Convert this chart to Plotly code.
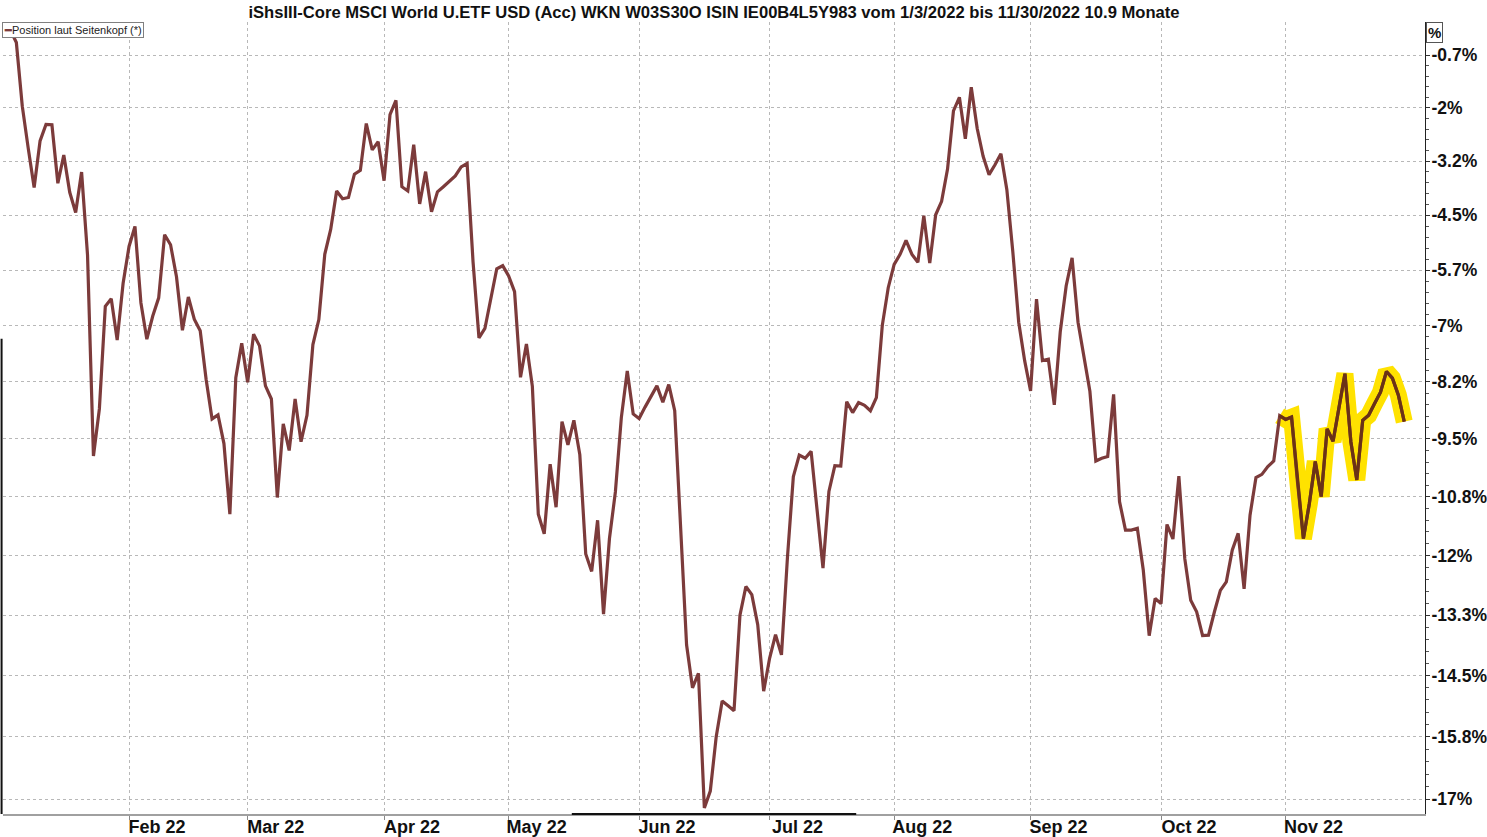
import math
import numpy as np
import pandas as pd
import plotly.graph_objects as go

# ---------------- data ----------------
dates = pd.bdate_range("2022-01-03", "2022-11-29")

perf = [
    0.00, -0.10, -0.40, -1.92, -2.91, -3.83, -2.74, -2.35, -2.36, -3.73,
    -3.07, -3.94, -4.41, -3.47, -5.38, -9.87, -8.84, -6.55, -6.38, -7.31,
    -6.03, -5.19, -4.73, -6.47, -7.29, -6.77, -6.36, -4.92, -5.15, -5.88,
    -7.09, -6.34, -6.84, -7.10, -8.19, -9.06, -8.97, -9.60, -11.13, -8.15,
    -7.38, -8.25, -7.18, -7.44, -8.33, -8.62, -10.77, -9.17, -9.75, -8.62,
    -9.56, -8.98, -7.41, -6.85, -5.37, -4.80, -3.91, -4.09, -4.06, -3.52,
    -3.43, -2.33, -2.95, -2.76, -3.67, -2.12, -1.78, -3.81, -3.91, -2.83,
    -4.21, -3.46, -4.39, -3.93, -3.81, -3.68, -3.56, -3.35, -3.27, -5.54,
    -7.26, -7.05, -6.34, -5.70, -5.63, -5.86, -6.22, -8.14, -7.40, -8.34,
    -11.13, -11.55, -10.05, -10.98, -9.12, -9.63, -9.09, -9.84, -11.98, -12.35,
    -11.26, -13.25, -11.65, -10.65, -9.03, -8.00, -8.95, -9.05, -8.80, -8.58,
    -8.33, -8.69, -8.30, -8.88, -11.30, -13.89, -14.78, -14.48, -17.22, -16.88,
    -15.78, -15.05, -15.15, -15.25, -13.27, -12.67, -12.84, -13.47, -14.85, -14.17,
    -13.68, -14.10, -12.07, -10.32, -9.85, -9.92, -9.77, -11.00, -12.28, -10.64,
    -10.08, -10.09, -8.68, -8.92, -8.70, -8.76, -8.88, -8.59, -6.98, -6.13,
    -5.60, -5.37, -5.05, -5.37, -5.55, -4.48, -5.57, -4.46, -4.15, -3.40,
    -2.03, -1.71, -2.69, -1.47, -2.45, -3.10, -3.53, -3.30, -3.04, -3.88,
    -5.30, -6.91, -7.77, -8.44, -6.39, -7.77, -7.74, -8.75, -7.13, -6.09,
    -5.45, -6.91, -7.66, -8.45, -9.98, -9.92, -9.88, -8.52, -10.86, -11.47,
    -11.47, -11.43, -12.32, -13.70, -12.92, -13.03, -11.35, -11.66, -10.31, -12.08,
    -12.96, -13.20, -13.70, -13.69, -13.20, -12.75, -12.57, -11.90, -11.54, -12.72,
    -11.15, -10.34, -10.27, -10.10, -9.98, -8.99, -9.07, -9.02, -10.43, -11.65,
    -10.90, -9.99, -10.75, -9.28, -9.55, -8.79, -8.06, -9.56, -10.39, -9.09,
    -8.98, -8.72, -8.47, -8.01, -8.16, -8.53, -9.12,
]

month_starts = ["2022-02-01", "2022-03-01", "2022-04-01", "2022-05-02", "2022-06-01",
                "2022-07-01", "2022-08-01", "2022-09-01", "2022-10-03", "2022-11-01"]
month_labels = ["Feb 22", "Mar 22", "Apr 22", "May 22", "Jun 22",
                "Jul 22", "Aug 22", "Sep 22", "Oct 22", "Nov 22"]

y_labels = ["-0.7%", "-2%", "-3.2%", "-4.5%", "-5.7%", "-7%", "-8.2%",
            "-9.5%", "-10.8%", "-12%", "-13.3%", "-14.5%", "-15.8%", "-17%"]
y_first_tick = -0.7
y_tick_step = 1.257
y_top = 0.095
y_bottom = -17.34

highlight_from = "2022-10-31"

title_text = ("iShsIII-Core MSCI World U.ETF USD (Acc) WKN W03S30O ISIN IE00B4L5Y983 "
              "vom 1/3/2022 bis 11/30/2022 10.9 Monate")
legend_text = "Position laut Seitenkopf (*)"

# ---------------- derived ----------------
n = len(dates)
assert len(perf) == n
idx = np.arange(n)
level = 100.0 + np.array(perf)
date_str = [d.strftime("%d.%m.%Y") for d in dates]
tick_pos = [int(dates.get_loc(pd.Timestamp(d))) for d in month_starts]
hl = int(dates.get_loc(pd.Timestamp(highlight_from)))

y_ticks = [y_first_tick - k * y_tick_step for k in range(len(y_labels))]
y_tickvals = [100 + v for v in y_ticks]
minor_vals = []
for k in range(len(y_labels) - 1):
    for j in range(1, 5):
        minor_vals.append(100 + y_ticks[k] - j * y_tick_step / 5)

LINE = "#7C3B3B"

fig = go.Figure()
# yellow highlighter
fig.add_trace(go.Scatter(
    x=idx[hl:], y=level[hl:], mode="lines",
    line=dict(color="#FFE200", width=17), hoverinfo="skip", showlegend=False))
fig.add_trace(go.Scatter(
    x=idx, y=level, mode="lines", name=legend_text,
    line=dict(color=LINE, width=3.2),
    customdata=np.stack([date_str, perf], axis=1),
    hovertemplate="%{customdata[0]}: %{customdata[1]}%<extra></extra>"))
# darker line on highlighter
fig.add_trace(go.Scatter(
    x=idx[hl:], y=level[hl:], mode="lines",
    line=dict(color="#6A3216", width=3.2), hoverinfo="skip", showlegend=False))

fig.update_layout(
    width=1487, height=837,
    margin=dict(l=3, r=62, t=22, b=23, autoexpand=False),
    paper_bgcolor="white", plot_bgcolor="white",
    showlegend=False,
    font=dict(family="Arial, Liberation Sans, sans-serif", color="black"),
    title=dict(text="<b>" + title_text + "</b>", x=0.5, xref="paper",
               y=1 - 12 / 837, yref="container", yanchor="middle",
               font=dict(size=16.6, color="#111"), automargin=False),
    xaxis=dict(
        automargin=False,
        range=[-0.25, 239.5], tickmode="array", tickvals=tick_pos,
        ticktext=["<b>" + t + "</b>" for t in month_labels],
        showgrid=True, gridcolor="#b8b8b8", griddash="dot", gridwidth=1,
        ticks="outside", ticklen=4, tickcolor="#888",
        showline=True, linecolor="#a0a0a0", linewidth=2, mirror=False,
        zeroline=False, tickfont=dict(size=18, color="#111"),
        ticklabelshift=28, ticklabelstandoff=-9, fixedrange=True),
    yaxis=dict(
        automargin=False,
        type="log", side="right",
        range=[math.log10(100 + y_bottom), math.log10(100 + y_top)],
        tickmode="array", tickvals=y_tickvals,
        ticktext=["<b>" + t + "</b>" for t in y_labels],
        showgrid=True, gridcolor="#b8b8b8", griddash="dot", gridwidth=1,
        ticks="outside", ticklen=4, tickcolor="#333",
        showline=True, linecolor="#222", linewidth=1,
        zeroline=False, tickfont=dict(size=17.5, color="#111"),
        ticklabelstandoff=-2,
        minor=dict(tickvals=minor_vals, ticks="outside", ticklen=3,
                   tickcolor="#555", showgrid=False),
        fixedrange=True),
)

# legend box (as annotation, like the original small legend)
fig.add_annotation(
    xref="paper", yref="paper", x=0, y=1, xanchor="left", yanchor="top",
    text="<span style='color:%s'><b>━</b></span>%s" % (LINE, legend_text),
    showarrow=False, font=dict(size=11, color="#222"),
    bgcolor="white", bordercolor="#808080", borderwidth=1, borderpad=1, xshift=-1)
# unit box on the right axis
fig.add_annotation(
    xref="paper", yref="paper", x=1, y=1, xanchor="left", yanchor="top",
    text="<b>%</b>", showarrow=False, font=dict(size=15, color="#111"),
    bgcolor="white", bordercolor="#555", borderwidth=1, borderpad=1, xshift=1)

# dark frame segments seen on left and bottom edge
fig.add_shape(type="line", xref="paper", yref="paper", x0=-0.001, x1=-0.001, y0=0, y1=0.6,
              line=dict(color="#111", width=2))
fig.add_shape(type="line", xref="paper", yref="paper", x0=0.4, x1=0.6, y0=0, y1=0,
              line=dict(color="#111", width=2))

fig.write_html(
    "out.html",
    config={"displayModeBar": False},
    post_script="document.body.style.margin='0';document.body.style.overflow='hidden';")
